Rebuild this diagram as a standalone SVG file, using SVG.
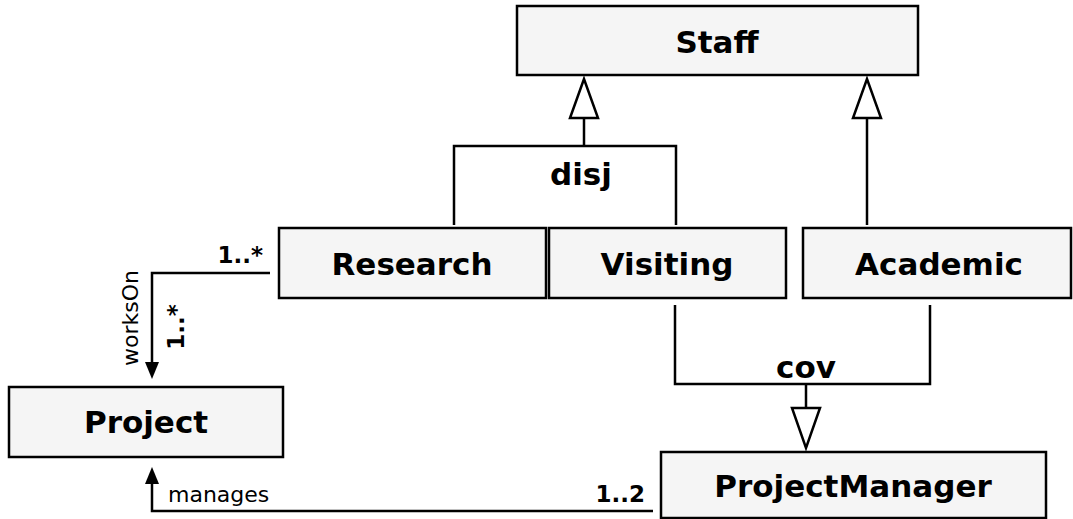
<svg xmlns="http://www.w3.org/2000/svg" width="1073" height="519" viewBox="0 0 1073 519">
<style>
.box{fill:#f5f5f5;stroke:#000;stroke-width:2.5}
.nt{font-family:"DejaVu Sans",Verdana,sans-serif;font-weight:bold;font-size:31px;text-anchor:middle;fill:#000}
.ln{fill:none;stroke:#000;stroke-width:2.5}
.tri{fill:#fff;stroke:#000;stroke-width:2.5}
.ah{fill:#000;stroke:none}
.lb{font-family:"DejaVu Sans",Verdana,sans-serif;font-weight:bold;font-size:23px;fill:#000}
.lr{font-family:"DejaVu Sans",Verdana,sans-serif;font-size:22px;fill:#000}
</style>
<rect width="1073" height="519" fill="#fff"/>
<g id="connectors">
<polyline class="ln" points="454,225 454,146 676,146 676,225"/>
<line class="ln" x1="584" y1="146" x2="584" y2="118"/>
<polygon class="tri" points="584,79 570,118 598,118"/>
<text class="nt" x="581" y="185">disj</text>
<line class="ln" x1="867" y1="225" x2="867" y2="118"/>
<polygon class="tri" points="867,79 853,118 881,118"/>
<polyline class="ln" points="675,305 675,384 930,384 930,305"/>
<line class="ln" x1="806" y1="384" x2="806" y2="408"/>
<polygon class="tri" points="792,408 820,408 806,448"/>
<text class="nt" x="806" y="378">cov</text>
<polyline class="ln" points="270,273 152,273 152,364"/>
<polygon class="ah" points="145,362 159,362 152,379"/>
<text class="lb" x="263" y="263" text-anchor="end">1..*</text>
<text class="lr" transform="translate(138,318) rotate(-90)" text-anchor="middle">worksOn</text>
<text class="lb" transform="translate(184,327) rotate(-90)" text-anchor="middle">1..*</text>
<polyline class="ln" points="653,511 152,511 152,481"/>
<polygon class="ah" points="145,484 159,484 152,467"/>
<text class="lr" x="168" y="502">manages</text>
<text class="lb" x="645" y="502" text-anchor="end">1..2</text>
</g>
<g id="staff"><rect class="box" x="517" y="6" width="401" height="69"/><text class="nt" x="717" y="53">Staff</text></g>
<g id="research"><rect class="box" x="279" y="228" width="267" height="70"/><text class="nt" x="412" y="275">Research</text></g>
<g id="visiting"><rect class="box" x="549" y="228" width="237" height="70"/><text class="nt" x="667" y="275">Visiting</text></g>
<g id="academic"><rect class="box" x="803" y="228" width="268" height="70"/><text class="nt" x="939" y="275">Academic</text></g>
<g id="project"><rect class="box" x="9" y="387" width="274" height="70"/><text class="nt" x="146" y="433">Project</text></g>
<g id="projectmanager"><rect class="box" x="661" y="452" width="385" height="66"/><text class="nt" x="853" y="497">ProjectManager</text></g>
</svg>
